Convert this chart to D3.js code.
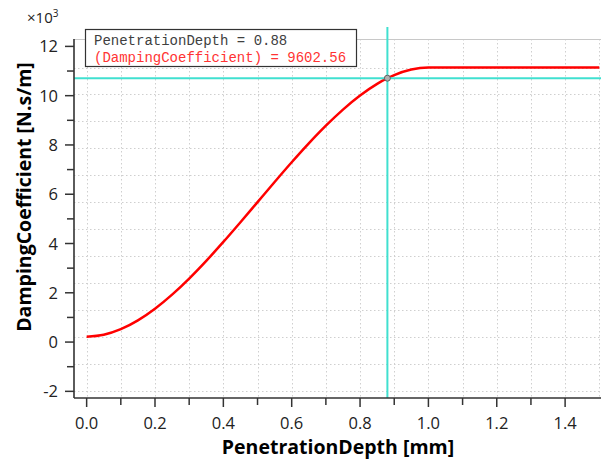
<!DOCTYPE html>
<html>
<head>
<meta charset="utf-8">
<script src="https://cdn.jsdelivr.net/npm/d3@7"></script>
<style>
  html, body { margin: 0; padding: 0; background: #fff; }
  svg { display: block; }
</style>
</head>
<body>
<svg id="chart" width="601" height="461"></svg>
<script>
// Damping coefficient vs. penetration depth (cubic step from 0 to 1 mm)
const penetrationDepth = [0, 0.05, 0.1, 0.15, 0.2, 0.25, 0.3, 0.35, 0.4, 0.45, 0.5,
  0.55, 0.6, 0.65, 0.7, 0.75, 0.8, 0.85, 0.88, 0.9, 0.95, 1.0, 1.1, 1.2, 1.3, 1.4, 1.5];
const dampingCoefficient = [0, 72.5, 280, 607.5, 1040, 1562.5, 2160, 2817.5, 3520, 4252.5, 5000,
  5747.5, 6480, 7182.5, 7840, 8437.5, 8960, 9392.5, 9602.56, 9720, 9927.5, 10000, 10000, 10000, 10000, 10000, 10000];

// Cursor readout
const cursorX = 0.88;
const cursorY = 9602.56;

// Axis tick labels
const xTickLabels = [0, 0.2, 0.4, 0.6, 0.8, 1.0, 1.2, 1.4];
const xMinorTicks = [0.1, 0.3, 0.5, 0.7, 0.9, 1.1, 1.3];
const yTickLabels = [-2, 0, 2, 4, 6, 8, 10, 12];
const yMinorTicks = [-1, 1, 3, 5, 7, 9, 11];
const xGrid = [0, 0.1, 0.2, 0.3, 0.4, 0.5, 0.6, 0.7, 0.8, 0.9, 1.0, 1.1, 1.2, 1.3, 1.4, 1.5];
const yGrid = [-2000, -1000, 0, 1000, 2000, 3000, 4000, 5000, 6000, 7000, 8000, 9000, 10000];

const svg = d3.select("#chart");
const plot = { left: 74, right: 601, top: 39, bottom: 398 };

const x = d3.scaleLinear().domain([-0.037, 1.505]).range([plot.left, plot.right]);
// value scale for the curve and grid (N.s/m)
const y = d3.scaleLinear().domain([-2277, 11059]).range([plot.bottom, plot.top]);
// scale used for the ×10³ axis labels
const yAxisScale = d3.scaleLinear().domain([-2.27, 12.30]).range([plot.bottom, plot.top]);

const font = "'Open Sans', 'Noto Sans', sans-serif";

svg.append("defs").append("clipPath").attr("id", "plotClip")
  .append("rect")
  .attr("x", plot.left).attr("y", plot.top)
  .attr("width", plot.right - plot.left).attr("height", plot.bottom - plot.top);

// Grid
const grid = svg.append("g").attr("clip-path", "url(#plotClip)")
  .attr("stroke", "#cfcfcf").attr("stroke-width", 1).attr("stroke-dasharray", "1.5,2.5");
grid.selectAll("line.gx").data(xGrid).join("line").attr("class", "gx")
  .attr("x1", d => Math.round(x(d)) + 0.5).attr("x2", d => Math.round(x(d)) + 0.5)
  .attr("y1", plot.top).attr("y2", plot.bottom);
grid.selectAll("line.gy").data(yGrid).join("line").attr("class", "gy")
  .attr("y1", d => Math.round(y(d)) + 0.5).attr("y2", d => Math.round(y(d)) + 0.5)
  .attr("x1", plot.left).attr("x2", plot.right);

// Plot frame (top edge)
svg.append("line")
  .attr("x1", plot.left).attr("x2", plot.right)
  .attr("y1", plot.top + 0.5).attr("y2", plot.top + 0.5)
  .attr("stroke", "#c8c8c8").attr("stroke-width", 1);

// Curve
const line = d3.line()
  .x((d, i) => x(penetrationDepth[i]))
  .y(d => y(d))
  .curve(d3.curveMonotoneX);
svg.append("path")
  .datum(dampingCoefficient)
  .attr("clip-path", "url(#plotClip)")
  .attr("d", line)
  .attr("fill", "none")
  .attr("stroke", "#ff0000")
  .attr("stroke-width", 2.5);

// Cursor crosshair
const cross = svg.append("g").attr("clip-path", "url(#plotClip)")
  .attr("stroke", "#40e0d0").attr("stroke-width", 2);
cross.append("line")
  .attr("x1", x(cursorX)).attr("x2", x(cursorX))
  .attr("y1", plot.top).attr("y2", plot.bottom);
svg.append("line")
  .attr("x1", x(cursorX)).attr("x2", x(cursorX))
  .attr("y1", plot.top - 12).attr("y2", plot.top)
  .attr("stroke", "#40e0d0").attr("stroke-width", 2);
cross.append("line")
  .attr("x1", plot.left).attr("x2", plot.right)
  .attr("y1", y(cursorY)).attr("y2", y(cursorY));
svg.append("circle")
  .attr("cx", x(cursorX)).attr("cy", y(cursorY)).attr("r", 3)
  .attr("fill", "#b0b0b0").attr("stroke", "#606060").attr("stroke-width", 1);

// Axes
const axisColor = "#333";
const xAxis = svg.append("g");
xAxis.append("line")
  .attr("x1", plot.left).attr("x2", plot.right)
  .attr("y1", plot.bottom).attr("y2", plot.bottom)
  .attr("stroke", axisColor).attr("stroke-width", 1.6);
xAxis.selectAll("line.major").data(xTickLabels).join("line").attr("class", "major")
  .attr("x1", d => x(d)).attr("x2", d => x(d))
  .attr("y1", plot.bottom).attr("y2", plot.bottom + 9)
  .attr("stroke", axisColor).attr("stroke-width", 1.5);
xAxis.selectAll("line.minor").data(xMinorTicks).join("line").attr("class", "minor")
  .attr("x1", d => x(d)).attr("x2", d => x(d))
  .attr("y1", plot.bottom).attr("y2", plot.bottom + 7)
  .attr("stroke", axisColor).attr("stroke-width", 1.5);
xAxis.selectAll("text").data(xTickLabels).join("text")
  .attr("x", d => x(d)).attr("y", plot.bottom + 31)
  .attr("text-anchor", "middle")
  .attr("font-family", font).attr("font-size", 16.5).attr("fill", "#222")
  .text(d => d3.format(".1f")(d));

const yAxis = svg.append("g");
yAxis.append("line")
  .attr("x1", plot.left).attr("x2", plot.left)
  .attr("y1", plot.top).attr("y2", plot.bottom)
  .attr("stroke", axisColor).attr("stroke-width", 1.6);
yAxis.selectAll("line.major").data(yTickLabels).join("line").attr("class", "major")
  .attr("x1", plot.left - 9).attr("x2", plot.left)
  .attr("y1", d => yAxisScale(d)).attr("y2", d => yAxisScale(d))
  .attr("stroke", axisColor).attr("stroke-width", 1.5);
yAxis.selectAll("line.minor").data(yMinorTicks).join("line").attr("class", "minor")
  .attr("x1", plot.left - 7).attr("x2", plot.left)
  .attr("y1", d => yAxisScale(d)).attr("y2", d => yAxisScale(d))
  .attr("stroke", axisColor).attr("stroke-width", 1.5);
yAxis.selectAll("text").data(yTickLabels).join("text")
  .attr("x", 58).attr("y", d => yAxisScale(d) + 6)
  .attr("text-anchor", "end")
  .attr("font-family", font).attr("font-size", 16.5).attr("fill", "#222")
  .text(d => d);

// Exponent marker
const expo = svg.append("text")
  .attr("x", 27).attr("y", 23)
  .attr("font-family", font).attr("font-size", 15).attr("fill", "#222");
expo.append("tspan").text("×10");
expo.append("tspan").attr("dy", -6).attr("font-size", 10).text("3");

// Axis titles
svg.append("text")
  .attr("x", 338).attr("y", 454)
  .attr("text-anchor", "middle")
  .attr("font-family", font).attr("font-weight", "bold").attr("font-size", 19.5).attr("fill", "#000")
  .text("PenetrationDepth [mm]");
svg.append("text")
  .attr("transform", "translate(31,197) rotate(-90)")
  .attr("text-anchor", "middle")
  .attr("font-family", font).attr("font-weight", "bold").attr("font-size", 19.5).attr("fill", "#000")
  .text("DampingCoefficient [N.s/m]");

// Readout box
const box = svg.append("g");
box.append("rect")
  .attr("x", 85.5).attr("y", 29.5).attr("width", 271).attr("height", 37)
  .attr("fill", "#fff").attr("stroke", "#333").attr("stroke-width", 1.2);
box.append("text")
  .attr("x", 94).attr("y", 45)
  .attr("font-family", "'Liberation Mono', 'DejaVu Sans Mono', monospace")
  .attr("font-size", 14).attr("fill", "#404040")
  .text(`PenetrationDepth = ${cursorX}`);
box.append("text")
  .attr("x", 94).attr("y", 62)
  .attr("font-family", "'Liberation Mono', 'DejaVu Sans Mono', monospace")
  .attr("font-size", 14).attr("fill", "#ff3333")
  .text(`(DampingCoefficient) = ${cursorY}`);
</script>
</body>
</html>
